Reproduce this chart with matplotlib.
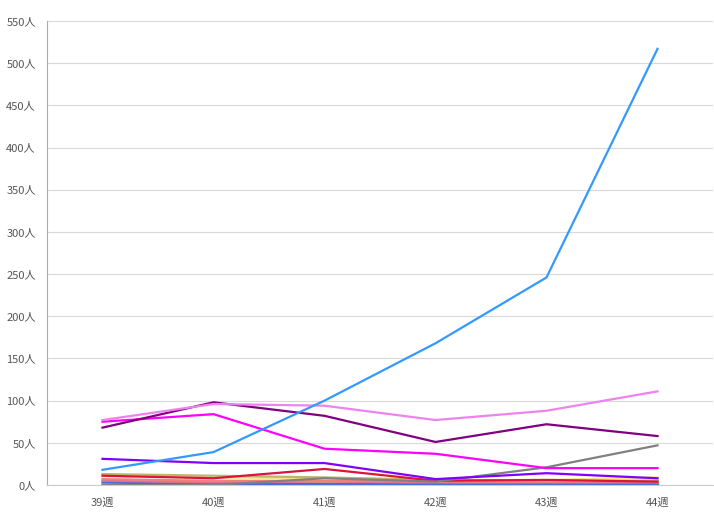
import numpy as np
import matplotlib
matplotlib.use("Agg")
import matplotlib.pyplot as plt

plt.rcParams['font.family'] = ['Noto Sans CJK JP', 'DejaVu Sans']

weeks = ["39週", "40週", "41週", "42週", "43週", "44週"]
y_ticks = [0, 50, 100, 150, 200, 250, 300, 350, 400, 450, 500, 550]

# series drawn bottom to top
green = [1, 1, 1, 1, 1, 1]
yellowgreen = [2, 4, 3, 2, 2, 2]
royal = [3, 1, 1, 1, 1, 1]
pink = [5, 3, 4, 3, 3, 3]
salmon = [7, 5, 5, 4, 4, 5]
khaki = [10, 9, 8, 6, 6, 9]
darkkhaki = [13, 11, 9, 6, 5, 5]
crimson = [11, 8, 19, 5, 6, 4]
gray = [0, 0, 8, 4, 21, 47]
blueviolet = [31, 26, 26, 7, 14, 8]
magenta = [75, 84, 43, 37, 20, 20]
purple = [68, 98, 82, 51, 72, 58]
violet = [77, 96, 94, 77, 88, 111]
blue = [18, 39, 100, 168, 246, 517]

series = [
    (green, "#008000"),
    (yellowgreen, "#adff2f"),
    (royal, "#4169e1"),
    (pink, "#db7093"),
    (salmon, "#f08080"),
    (khaki, "#f0e68c"),
    (darkkhaki, "#bdb76b"),
    (crimson, "#dc143c"),
    (gray, "#808080"),
    (blueviolet, "#8000ff"),
    (magenta, "#ff00ff"),
    (purple, "#800080"),
    (violet, "#ee82ee"),
    (blue, "#3399ff"),
]

fig = plt.figure(figsize=(7.14, 5.26), dpi=100)
ax = fig.add_axes([47/714, 41/526, 666/714, 464/526])

x = np.arange(len(weeks))
for vals, col in series:
    ax.plot(x, vals, color=col, lw=1.6, solid_joinstyle='miter')

ax.set_xlim(-0.5, 5.5)
ax.set_ylim(0, 550)
ax.set_xticks(x)
ax.set_xticklabels(weeks)
ax.set_yticks(y_ticks)
ax.set_yticklabels([f"{v}人" for v in y_ticks])
ax.tick_params(axis='both', length=0, labelsize=8, colors='#555555')
ax.tick_params(axis='x', pad=9)
ax.tick_params(axis='y', pad=8)
ax.grid(axis='y', color='#d9d9d9', lw=0.8)
ax.set_axisbelow(True)
for s in ['top', 'right']:
    ax.spines[s].set_visible(False)
ax.spines['left'].set_color('#aaaaaa')
ax.spines['bottom'].set_color('#cccccc')

fig.savefig("out.png", dpi=100)
